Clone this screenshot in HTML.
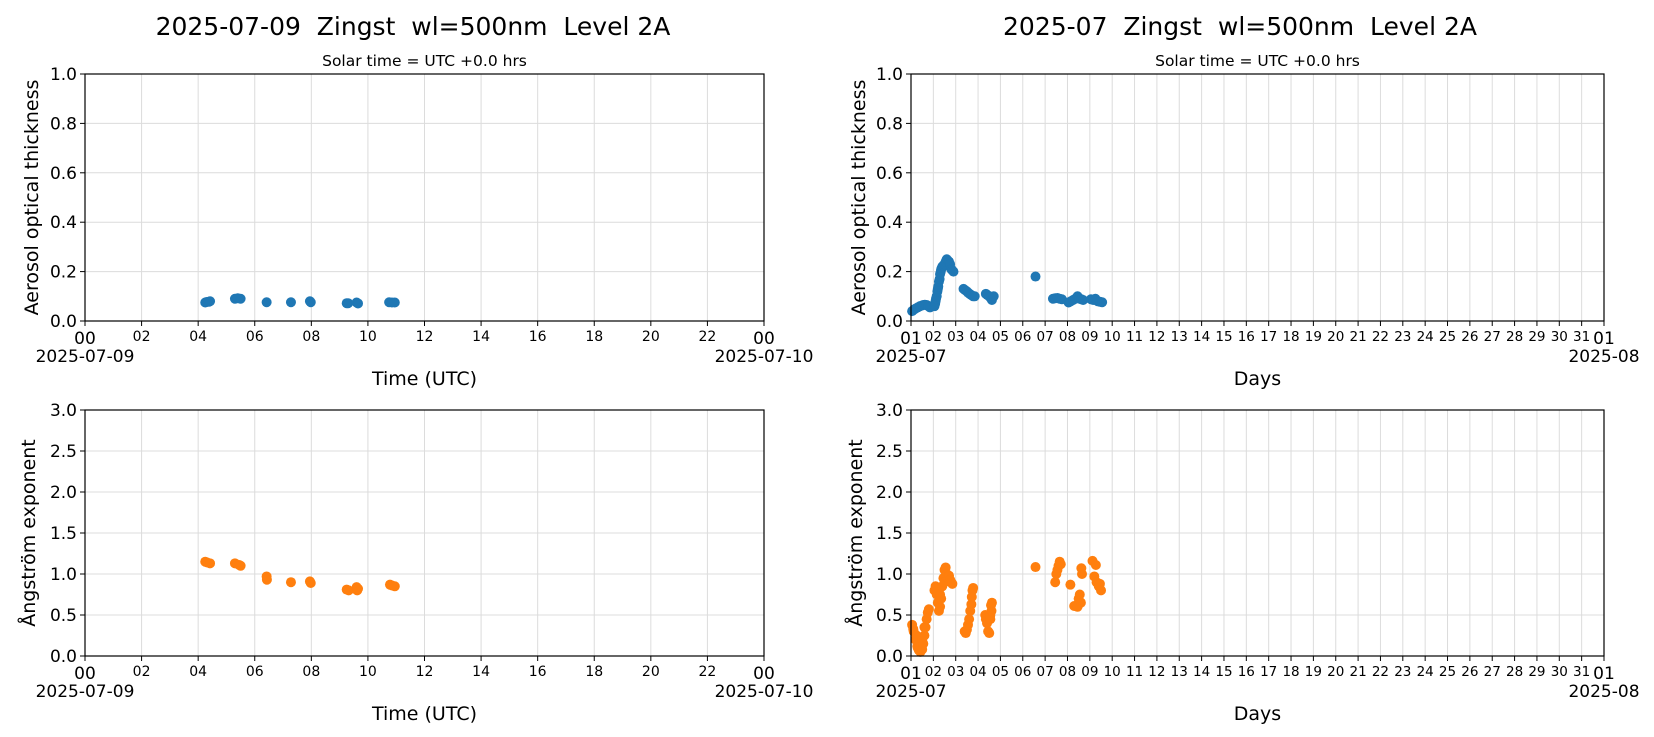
<!DOCTYPE html>
<html><head><meta charset="utf-8">
<style>
html,body{margin:0;padding:0;background:#fff;}
svg{display:block;font-family:"DejaVu Sans","Liberation Sans",sans-serif;}
text{white-space:pre;}
</style></head>
<body>
<svg id="fig" width="1654" height="737" viewBox="0 0 1654 737" xmlns="http://www.w3.org/2000/svg">
<text x="413" y="35" font-size="25" text-anchor="middle" xml:space="preserve">2025-07-09  Zingst  wl=500nm  Level 2A</text>
<text x="1240" y="35" font-size="25" text-anchor="middle" xml:space="preserve">2025-07  Zingst  wl=500nm  Level 2A</text>
</svg>
<script>
// ---- data ----
const dayAodHours = [4.25,4.3,4.38,4.42,5.3,5.4,5.5,6.42,7.28,7.95,7.98,9.25,9.3,9.6,9.65,10.75,10.85,10.95];
const dayAodValues = [0.075,0.077,0.078,0.08,0.09,0.092,0.09,0.076,0.076,0.08,0.076,0.072,0.072,0.075,0.071,0.076,0.075,0.075];
const dayAlphaHours = [4.25,4.32,4.42,5.3,5.45,5.5,6.42,6.43,7.28,7.95,7.98,9.25,9.32,9.6,9.62,9.65,10.78,10.85,10.95];
const dayAlphaValues = [1.15,1.14,1.13,1.13,1.11,1.1,0.97,0.93,0.9,0.91,0.89,0.81,0.8,0.84,0.8,0.82,0.87,0.86,0.85];

const monAodDays = [0.05,0.12,0.2,0.3,0.4,0.5,0.55,0.62,0.7,0.78,0.85,
  1.05,1.08,1.1,1.12,1.15,1.18,1.2,1.22,1.25,1.28,1.3,1.33,1.35,1.38,1.4,1.45,1.5,1.55,1.6,1.65,1.7,1.75,1.8,1.85,1.9,
  2.35,2.42,2.5,2.55,2.62,2.7,2.78,2.85,
  3.35,3.42,3.5,3.55,3.62,3.7,
  5.57,6.35,6.45,6.55,6.65,6.75,7.05,7.15,7.25,7.35,7.45,7.55,7.62,7.7,8.05,8.15,8.25,8.35,8.45,8.55];
const monAodValues = [0.04,0.045,0.05,0.055,0.06,0.063,0.065,0.066,0.065,0.06,0.055,
  0.06,0.07,0.08,0.09,0.1,0.12,0.13,0.14,0.16,0.17,0.19,0.2,0.21,0.215,0.22,0.225,0.23,0.24,0.25,0.245,0.24,0.23,0.21,0.205,0.2,
  0.13,0.125,0.12,0.115,0.11,0.105,0.1,0.1,
  0.11,0.105,0.1,0.095,0.085,0.1,
  0.18,0.09,0.092,0.093,0.09,0.088,0.075,0.08,0.085,0.09,0.1,0.09,0.088,0.085,0.088,0.085,0.09,0.08,0.078,0.076];
const monAlphaDays = [0.05,0.1,0.12,0.2,0.25,0.28,0.3,0.35,0.42,0.45,0.5,0.5,0.55,0.6,0.6,0.65,0.7,0.75,0.8,
  1.05,1.1,1.15,1.2,1.2,1.25,1.3,1.3,1.35,1.4,1.45,1.5,1.5,1.55,1.6,1.65,1.7,1.75,1.8,1.85,
  2.4,2.45,2.5,2.55,2.6,2.65,2.7,2.72,2.75,2.78,
  3.32,3.35,3.4,3.45,3.5,3.55,3.55,3.58,3.6,3.62,
  5.57,6.45,6.5,6.55,6.6,6.65,6.7,7.13,7.3,7.45,7.5,7.55,7.6,7.62,7.65,8.12,8.2,8.27,8.3,8.4,8.45,8.5];
const monAlphaValues = [0.38,0.33,0.3,0.2,0.25,0.12,0.1,0.07,0.05,0.12,0.08,0.2,0.15,0.25,0.35,0.35,0.45,0.53,0.57,
  0.8,0.85,0.75,0.65,0.8,0.55,0.6,0.75,0.7,0.85,0.95,1.05,0.9,1.08,1.0,0.95,0.98,0.93,0.9,0.88,
  0.3,0.28,0.32,0.38,0.45,0.55,0.63,0.72,0.8,0.83,
  0.5,0.45,0.4,0.3,0.28,0.45,0.5,0.62,0.55,0.65,
  1.085,0.9,1.0,1.05,1.1,1.15,1.12,0.87,0.61,0.6,0.7,0.75,0.65,1.07,1.0,1.16,0.97,1.11,0.9,0.85,0.88,0.8];

const aodTicks = ["0.0","0.2","0.4","0.6","0.8","1.0"];
const alphaTicks = ["0.0","0.5","1.0","1.5","2.0","2.5","3.0"];
const hourTicks = ["00","02","04","06","08","10","12","14","16","18","20","22","00"];
const dayTicks = ["01","02","03","04","05","06","07","08","09","10","11","12","13","14","15","16","17","18","19","20","21","22","23","24","25","26","27","28","29","30","31","01"];

const NS = "http://www.w3.org/2000/svg";
const fig = document.getElementById('fig');
function mk(tag, attrs, parent){
  const e = document.createElementNS(NS, tag);
  for (const k in attrs) e.setAttribute(k, attrs[k]);
  (parent||fig).appendChild(e);
  return e;
}

function drawAxes(o){
  const g = mk('g', {});
  
  
  const xs = v => o.x0 + (v - o.xmin) / (o.xmax - o.xmin) * (o.x1 - o.x0);
  const ys = v => o.y1 - (v - o.ymin) / (o.ymax - o.ymin) * (o.y1 - o.y0);
  const nx = o.xticks.length;
  for (let i = 0; i < nx; i++){
    const v = o.xmin + i * (o.xmax - o.xmin) / (nx - 1);
    const x = xs(v);
    const gl = mk('line', {x1:x, x2:x, y1:o.y0, y2:o.y1, stroke:'#dcdcdc', 'stroke-width':1}, g);
    
    
    mk('line', {x1:x, x2:x, y1:o.y1, y2:o.y1+5, stroke:'#000', 'stroke-width':1}, g);
    const big = (i === 0 || i === nx - 1);
    const t = mk('text', {x:x, y: big ? o.y1+23 : o.y1+20, 'font-size': big ? 17 : o.smallFont, 'text-anchor':'middle'}, g);
    t.textContent = o.xticks[i];
    
    
  }
  const d0 = mk('text', {x:o.x0, y:o.y1+41, 'font-size':17, 'text-anchor':'middle'}, g);
  d0.textContent = o.dateL;
  
  
  const d1 = mk('text', {x:o.x1, y:o.y1+41, 'font-size':17, 'text-anchor':'middle'}, g);
  d1.textContent = o.dateR;
  
  
  const ny = o.yticks.length;
  for (let i = 0; i < ny; i++){
    const v = o.ymin + i * (o.ymax - o.ymin) / (ny - 1);
    const y = ys(v);
    const gl = mk('line', {x1:o.x0, x2:o.x1, y1:y, y2:y, stroke:'#dcdcdc', 'stroke-width':1}, g);
    
    
    mk('line', {x1:o.x0-5, x2:o.x0, y1:y, y2:y, stroke:'#000', 'stroke-width':1}, g);
    const t = mk('text', {x:o.x0-8, y:y+6, 'font-size':17, 'text-anchor':'end'}, g);
    t.textContent = o.yticks[i];
    
    
  }
  for (let i = 0; i < o.px.length; i++){
    const c = mk('circle', {cx:xs(o.px[i]), cy:ys(o.py[i]), r:5, fill:o.color}, g);
    
    
  }
  const fr = mk('rect', {x:o.x0, y:o.y0, width:o.x1-o.x0, height:o.y1-o.y0, fill:'none', stroke:'#000', 'stroke-width':1.2}, g);
  
  
  const xl = mk('text', {x:(o.x0+o.x1)/2, y:o.y1+64, 'font-size':19, 'text-anchor':'middle'}, g);
  xl.textContent = o.xlabel;
  
  
  const yc = (o.y0 + o.y1) / 2;
  const yl = mk('text', {x:o.ylx, y:yc, 'font-size':19, 'text-anchor':'middle', transform:`rotate(-90 ${o.ylx} ${yc})`}, g);
  yl.textContent = o.ylabel;
  
  
  if (o.sub){
    const s = mk('text', {x:(o.x0+o.x1)/2, y:o.y0-8, 'font-size':15.5, 'text-anchor':'middle'}, g);
    s.textContent = o.sub;
    
    
  }
}

const L = {x0:85, x1:764}, R = {x0:911, x1:1604};
const T = {y0:74, y1:321}, B = {y0:410, y1:656};

drawAxes({name:'daily-aod-plot', ...L, ...T, xmin:0, xmax:24, ymin:0, ymax:1, xticks:hourTicks, yticks:aodTicks, smallFont:14,
  dateL:'2025-07-09', dateR:'2025-07-10', px:dayAodHours, py:dayAodValues, color:'#1f77b4',
  xlabel:'Time (UTC)', ylabel:'Aerosol optical thickness', ylx:38, sub:'Solar time = UTC +0.0 hrs'});
drawAxes({name:'daily-angstrom-plot', ...L, ...B, xmin:0, xmax:24, ymin:0, ymax:3, xticks:hourTicks, yticks:alphaTicks, smallFont:14,
  dateL:'2025-07-09', dateR:'2025-07-10', px:dayAlphaHours, py:dayAlphaValues, color:'#ff7f0e',
  xlabel:'Time (UTC)', ylabel:'Ångström exponent', ylx:35});
drawAxes({name:'monthly-aod-plot', ...R, ...T, xmin:0, xmax:31, ymin:0, ymax:1, xticks:dayTicks, yticks:aodTicks, smallFont:13.5,
  dateL:'2025-07', dateR:'2025-08', px:monAodDays, py:monAodValues, color:'#1f77b4',
  xlabel:'Days', ylabel:'Aerosol optical thickness', ylx:865, sub:'Solar time = UTC +0.0 hrs'});
drawAxes({name:'monthly-angstrom-plot', ...R, ...B, xmin:0, xmax:31, ymin:0, ymax:3, xticks:dayTicks, yticks:alphaTicks, smallFont:13.5,
  dateL:'2025-07', dateR:'2025-08', px:monAlphaDays, py:monAlphaValues, color:'#ff7f0e',
  xlabel:'Days', ylabel:'Ångström exponent', ylx:862});
</script>
</body></html>
